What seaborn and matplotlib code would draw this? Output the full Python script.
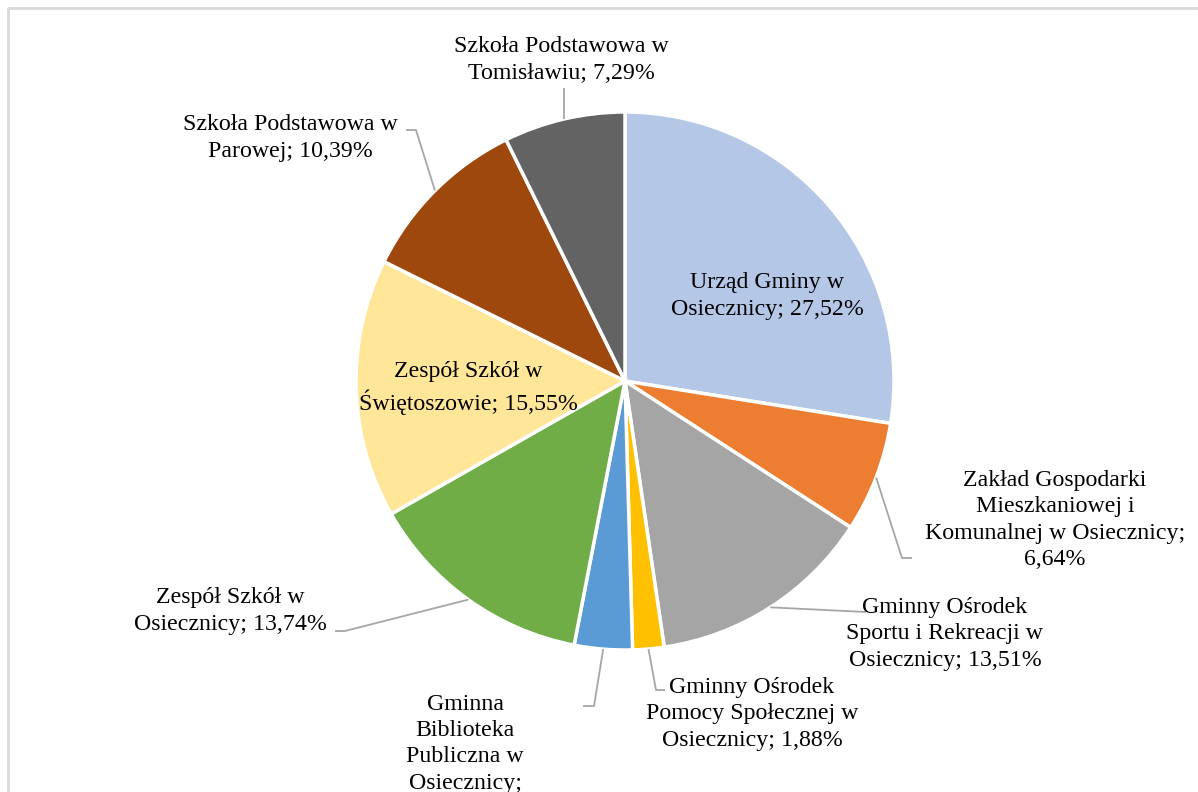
import numpy as np
import matplotlib.pyplot as plt
import seaborn as sns

names = ["Urząd Gminy w\nOsiecznicy",
         "Zakład Gospodarki\nMieszkaniowej i\nKomunalnej w Osiecznicy;\n",
         "Gminny Ośrodek\nSportu i Rekreacji w\nOsiecznicy",
         "Gminny Ośrodek\nPomocy Społecznej w\nOsiecznicy",
         "Gminna\nBiblioteka\nPubliczna w\nOsiecznicy;\n",
         "Zespół Szkół w\nOsiecznicy",
         "Zespół Szkół w\nŚwiętoszowie",
         "Szkoła Podstawowa w\nParowej",
         "Szkoła Podstawowa w\nTomisławiu"]
shares = [27.52, 6.64, 13.51, 1.88, 3.48, 13.74, 15.55, 10.39, 7.29]
colors = ["#B4C7E7", "#ED7D31", "#A5A5A5", "#FFC000", "#5B9BD5",
          "#70AD47", "#FFE699", "#9E480E", "#636363"]

sns.set_style("white")
plt.rcParams["font.family"] = ["Liberation Serif", "DejaVu Serif"]

W, H = 1198, 792
fig = plt.figure(figsize=(W / 100, H / 100), dpi=100)
ax = fig.add_axes([0, 0, 1, 1])

def px(x, y):
    # pixel position (from top-left) -> data coords
    return x, H - y

cx, cy = px(625, 381)
R = 269
wedges, _ = ax.pie(shares, colors=colors, startangle=90, counterclock=False,
                   center=(cx, cy), radius=R, frame=True,
                   wedgeprops=dict(edgecolor="white", linewidth=2.5))
ax.set_xlim(0, W)
ax.set_ylim(0, H)
ax.set_aspect("equal")
ax.axis("off")

def label(i):
    n = names[i]
    v = f"{shares[i]:.2f}%".replace(".", ",")
    return n + v if n.endswith("\n") else f"{n}; {v}"

# label centre (pixel) and leader elbow points (pixel) per slice; None = inside
layout = [
    ((767, 296), None),
    ((1055, 520), [(902, 558), (912, 558)]),
    ((945, 634), [(866, 612)]),
    ((752, 714), [(656, 690), (665, 690)]),
    ((465, 757), [(594, 706), (583, 706)]),
    ((230, 611), [(345, 631), (335, 631)]),
    ((468, 388), None),
    ((290, 138), [(416, 130), (406, 130)]),
    ((561, 60), [(564, 88)]),
]

fs = 17.2
for i, (w, (pos, elbow)) in enumerate(zip(wedges, layout)):
    tx, ty = px(*pos)
    ax.text(tx, ty, label(i), ha="center", va="center", fontsize=fs,
            color="black", linespacing=1.33, multialignment="center")
    if elbow is None:
        continue
    mid = np.deg2rad((w.theta1 + w.theta2) / 2)
    xs = [cx + R * np.cos(mid)] + [px(*p)[0] for p in elbow]
    ys = [cy + R * np.sin(mid)] + [px(*p)[1] for p in elbow]
    ax.plot(xs, ys, color="#A6A6A6", lw=1.3, solid_capstyle="butt")

# chart area border (top and left visible)
ax.plot([8, 8, 1197], [-5, H - 8, H - 8], color="#D9D9D9", lw=2, clip_on=False)

fig.savefig("out.png", dpi=100)
